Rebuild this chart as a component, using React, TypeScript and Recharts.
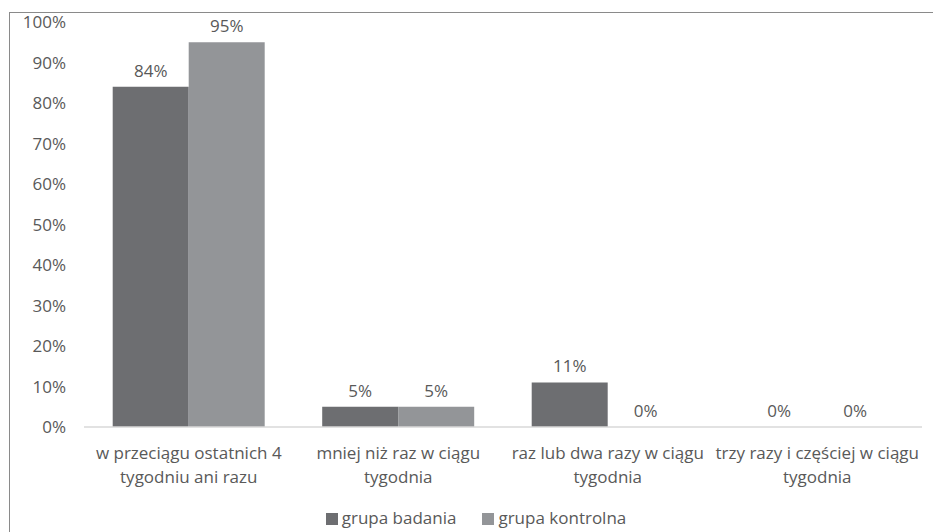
import React from 'react';
import { BarChart, Bar, XAxis, YAxis, Legend, LabelList } from 'recharts';

const categories = [
  'w przeciągu ostatnich 4\ntygodniu ani razu',
  'mniej niż raz w ciągu\ntygodnia',
  'raz lub dwa razy w ciągu\ntygodnia',
  'trzy razy i częściej w ciągu\ntygodnia',
];
const grupaBadania = [84, 5, 11, 0];
const grupaKontrolna = [95, 5, 0, 0];
const yTicks = [0, 10, 20, 30, 40, 50, 60, 70, 80, 90, 100];

const data = categories.map((name, i) => ({
  name,
  badania: grupaBadania[i],
  kontrolna: grupaKontrolna[i],
}));

const FONT = "'Open Sans', 'Liberation Sans', sans-serif";
const TEXT = '#595959';
const FS = 17;

const CategoryTick = (props: any) => {
  const { x, y, payload } = props;
  const lines = String(payload.value).split('\n');
  return (
    <g transform={`translate(${x},${y})`}>
      {lines.map((line, i) => (
        <text key={i} x={0} y={32 + i * 24} textAnchor="middle" fill={TEXT} fontSize={FS} fontFamily={FONT}>
          {line}
        </text>
      ))}
    </g>
  );
};

export default function App() {
  return (
    <div style={{ position: 'absolute', left: 0, top: 0, width: 933, height: 532, overflow: 'hidden', background: '#fff' }}>
      <div style={{ position: 'absolute', left: 9, top: 12, width: 1000, height: 600, border: '1px solid #8a8a8a' }} />
      <BarChart
        width={933}
        height={532}
        data={data}
        margin={{ top: 22, right: 11, left: 0, bottom: 0 }}
        barGap={0}
        barCategoryGap="13.7%"
        style={{ position: 'absolute', left: 0, top: 0 }}
      >
        <XAxis
          dataKey="name"
          height={82}
          tickLine={false}
          tickSize={0}
          tickMargin={0}
          axisLine={{ stroke: '#d9d9d9', strokeWidth: 1.5 }}
          tick={<CategoryTick />}
          interval={0}
        />
        <YAxis
          width={84}
          domain={[0, 100]}
          ticks={yTicks}
          tickFormatter={(v: number) => `${v}%`}
          axisLine={false}
          tickLine={false}
          tickSize={0}
          tickMargin={18}
          tick={{ fill: TEXT, fontSize: FS, fontFamily: FONT }}
        />
        <Legend
          verticalAlign="bottom"
          align="center"
          iconType="square"
          iconSize={12}
          wrapperStyle={{ fontFamily: FONT, fontSize: FS, color: TEXT, bottom: 3, paddingLeft: 28 }}
          formatter={(value: string) => <span style={{ color: TEXT, marginRight: 16 }}>{value}</span>}
        />
        <Bar dataKey="badania" name="grupa badania" fill="#6d6e71" minPointSize={0.01} isAnimationActive={false}>
          <LabelList dataKey="badania" position="top" offset={10} formatter={(v: number) => `${v}%`} fill={TEXT} fontSize={FS} fontFamily={FONT} />
        </Bar>
        <Bar dataKey="kontrolna" name="grupa kontrolna" fill="#939598" minPointSize={0.01} isAnimationActive={false}>
          <LabelList dataKey="kontrolna" position="top" offset={10} formatter={(v: number) => `${v}%`} fill={TEXT} fontSize={FS} fontFamily={FONT} />
        </Bar>
      </BarChart>
    </div>
  );
}
